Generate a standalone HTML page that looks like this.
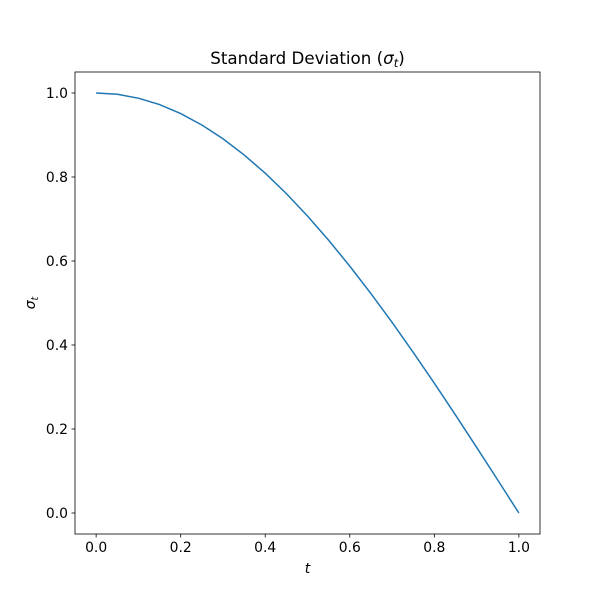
<!DOCTYPE html>
<html><head><meta charset="utf-8"><style>body{margin:0;background:#fff}svg{display:block}text{font-family:"DejaVu Sans","Liberation Sans",sans-serif;fill:#000}</style></head>
<body>
<svg id="chart" width="600" height="600"></svg>
<script>
const tValues=[0,0.05,0.1,0.15,0.2,0.25,0.3,0.35,0.4,0.45,0.5,0.55,0.6,0.65,0.7,0.75,0.8,0.85,0.9,0.95,1];
const sigmaValues=[1,0.9969,0.9877,0.9724,0.9511,0.9239,0.8910,0.8526,0.8090,0.7604,0.7071,0.6494,0.5878,0.5225,0.4540,0.3827,0.3090,0.2334,0.1564,0.0785,0];
const xTicks=[0,0.2,0.4,0.6,0.8,1.0];
const yTicks=[0,0.2,0.4,0.6,0.8,1.0];
const L=75,R=540,T=72,B=534;
const x=v=>L+(v+0.05)/1.1*(R-L);
const y=v=>B-(v+0.05)/1.1*(B-T);
const svg=document.getElementById('chart');
const NS='http://www.w3.org/2000/svg';
function mk(tag,attrs,parent){const e=document.createElementNS(NS,tag);for(const k in attrs)e.setAttribute(k,attrs[k]);(parent||svg).appendChild(e);return e;}
let d='';
tValues.forEach((t,i)=>{d+=(i?'L':'M')+x(t).toFixed(2)+','+y(sigmaValues[i]).toFixed(2);});
const line=mk('path',{d:d,fill:'none',stroke:'#1f77b4','stroke-width':1.5});


const frame=mk('rect',{x:L,y:T,width:R-L,height:B-T,fill:'none',stroke:'#000','stroke-width':0.8});


xTicks.forEach(v=>{
  const tk=mk('line',{x1:x(v),x2:x(v),y1:B,y2:B+3.5,stroke:'#000','stroke-width':0.8});
  
  
  const lb=mk('text',{x:x(v),y:B+18,'text-anchor':'middle','font-size':'13.9px'});
  lb.textContent=v.toFixed(1);
  
  
});
yTicks.forEach(v=>{
  const tk=mk('line',{x1:L-3.5,x2:L,y1:y(v),y2:y(v),stroke:'#000','stroke-width':0.8});
  
  
  const lb=mk('text',{x:L-7,y:y(v)+5,'text-anchor':'end','font-size':'13.9px'});
  lb.textContent=v.toFixed(1);
  
  
});
</script>
<svg width="600" height="600" style="position:absolute;left:0;top:0">
<text x="307.5" y="64" text-anchor="middle" font-size="16.7px">Standard Deviation (<tspan font-style="italic">σ</tspan><tspan font-style="italic" font-size="11.5px" dy="3">t</tspan><tspan dy="-3">)</tspan></text>
<text x="307.5" y="573" text-anchor="middle" font-size="13.9px" font-style="italic">t</text>
<text transform="translate(35,303) rotate(-90)" text-anchor="middle" font-size="13.9px"><tspan font-style="italic">σ</tspan><tspan font-style="italic" font-size="9.5px" dy="3">t</tspan></text>
</svg>
</body></html>
